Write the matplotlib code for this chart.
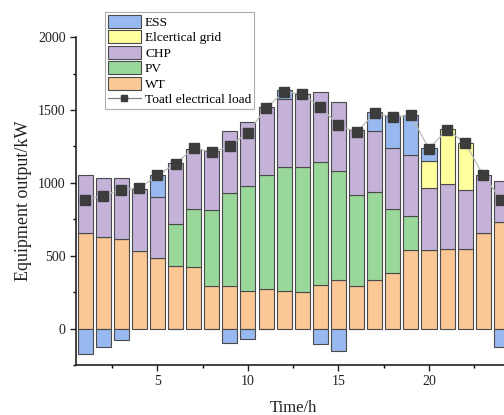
import numpy as np
import matplotlib
matplotlib.use('Agg')
from matplotlib import pyplot as plt
from matplotlib.ticker import MultipleLocator
from matplotlib.lines import Line2D
from matplotlib.patches import Patch

plt.rcParams['font.family'] = ['Liberation Serif', 'DejaVu Serif']

hours = list(range(1, 25))
wt = [655, 630, 614, 529, 487, 430, 423, 292, 292, 260, 269, 260,
      251, 297, 333, 292, 336, 379, 540, 537, 549, 549, 655, 729]
pv = [0, 0, 0, 0, 0, 285, 398, 522, 641, 715, 788, 850,
      859, 846, 745, 628, 604, 442, 230, 0, 0, 0, 0, 0]
chp = [402, 402, 418, 430, 419, 423, 413, 402, 421, 441, 465, 465,
       497, 478, 474, 441, 416, 418, 423, 426, 442, 405, 396, 282]
grid = [0, 0, 0, 0, 0, 0, 0, 0, 0, 0, 0, 0,
        0, 0, 0, 0, 0, 0, 0, 188, 381, 320, 0, 0]
ess = [-175, -126, -76, 0, 149, -5, 0, -5, -99, -71, -5, 62,
       5, -103, -156, -5, 127, 221, 276, 85, 0, 0, 0, -129]
load = [885, 912, 954, 963, 1053, 1131, 1239, 1211, 1253, 1345, 1515, 1625,
        1607, 1520, 1395, 1349, 1476, 1453, 1464, 1234, 1366, 1274, 1051, 883]

c_wt = '#fbc795'
c_pv = '#9ad79b'
c_chp = '#c4b2d9'
c_grid = '#ffff9e'
c_ess = '#98b9ef'
edge = '#4a4a4a'

fig = plt.figure(figsize=(5.04, 4.15), dpi=100)
ax = fig.add_axes([0.1508, 0.1205, 0.862, 0.790])

x = np.array(hours)
w = 0.83
kw = dict(width=w, edgecolor=edge, linewidth=0.8)
wt_a, pv_a, chp_a, grid_a, ess_a = map(np.array, (wt, pv, chp, grid, ess))
ess_pos = np.clip(ess_a, 0, None)
ess_neg = np.clip(ess_a, None, 0)

ax.bar(x, wt_a, color=c_wt, **kw)
ax.bar(x, pv_a, bottom=wt_a, color=c_pv, **kw)
ax.bar(x, chp_a, bottom=wt_a + pv_a, color=c_chp, **kw)
m = grid_a > 0
ax.bar(x[m], grid_a[m], bottom=(wt_a + pv_a + chp_a)[m], color=c_grid, **kw)
m = ess_pos > 0
ax.bar(x[m], ess_pos[m], bottom=(wt_a + pv_a + chp_a + grid_a)[m], color=c_ess, **kw)
m = ess_neg < 0
ax.bar(x[m], ess_neg[m], color=c_ess, **kw)

ax.plot(x, load, color='#bbbbbb', lw=0.9, marker='s', markersize=6.5,
        markerfacecolor='#3c3c3c', markeredgecolor='#3c3c3c', zorder=5)

ax.set_xlim(0.5, 24.5)
ax.set_ylim(-250, 2000)
ax.xaxis.set_major_locator(MultipleLocator(5))
ax.xaxis.set_minor_locator(MultipleLocator(2.5))
ax.yaxis.set_major_locator(MultipleLocator(500))
ax.yaxis.set_minor_locator(MultipleLocator(250))
ax.tick_params(which='major', direction='out', length=4, width=1, labelsize=10, colors='#222222')
ax.tick_params(which='minor', direction='out', length=2.5, width=1)
for s in ['top', 'right']:
    ax.spines[s].set_visible(False)
for s in ['left', 'bottom']:
    ax.spines[s].set_linewidth(1.2)
    ax.spines[s].set_color('#222222')

ax.set_xlabel('Time/h', fontsize=12, color='#222222', labelpad=8)
ax.set_ylabel('Equipment output/kW', fontsize=13, color='#222222', labelpad=4)

handles = [
    Patch(facecolor=c_ess, edgecolor=edge, linewidth=0.8, label='ESS'),
    Patch(facecolor=c_grid, edgecolor=edge, linewidth=0.8, label='Elcertical grid'),
    Patch(facecolor=c_chp, edgecolor=edge, linewidth=0.8, label='CHP'),
    Patch(facecolor=c_pv, edgecolor=edge, linewidth=0.8, label='PV'),
    Patch(facecolor=c_wt, edgecolor=edge, linewidth=0.8, label='WT'),
    Line2D([], [], color='#808080', lw=0.9, marker='s', markersize=5,
           markerfacecolor='#3c3c3c', markeredgecolor='#3c3c3c', label='Toatl electrical load'),
]
leg = ax.legend(handles=handles, loc='upper left', bbox_to_anchor=(0.067, 1.076),
                fontsize=9.6, frameon=True, fancybox=False, edgecolor='#999999',
                handlelength=2.5, handleheight=1.1, handletextpad=0.3,
                borderpad=0.2, labelspacing=0.12, borderaxespad=0)
leg.get_frame().set_linewidth(0.8)

fig.savefig('out.png', dpi=100)
